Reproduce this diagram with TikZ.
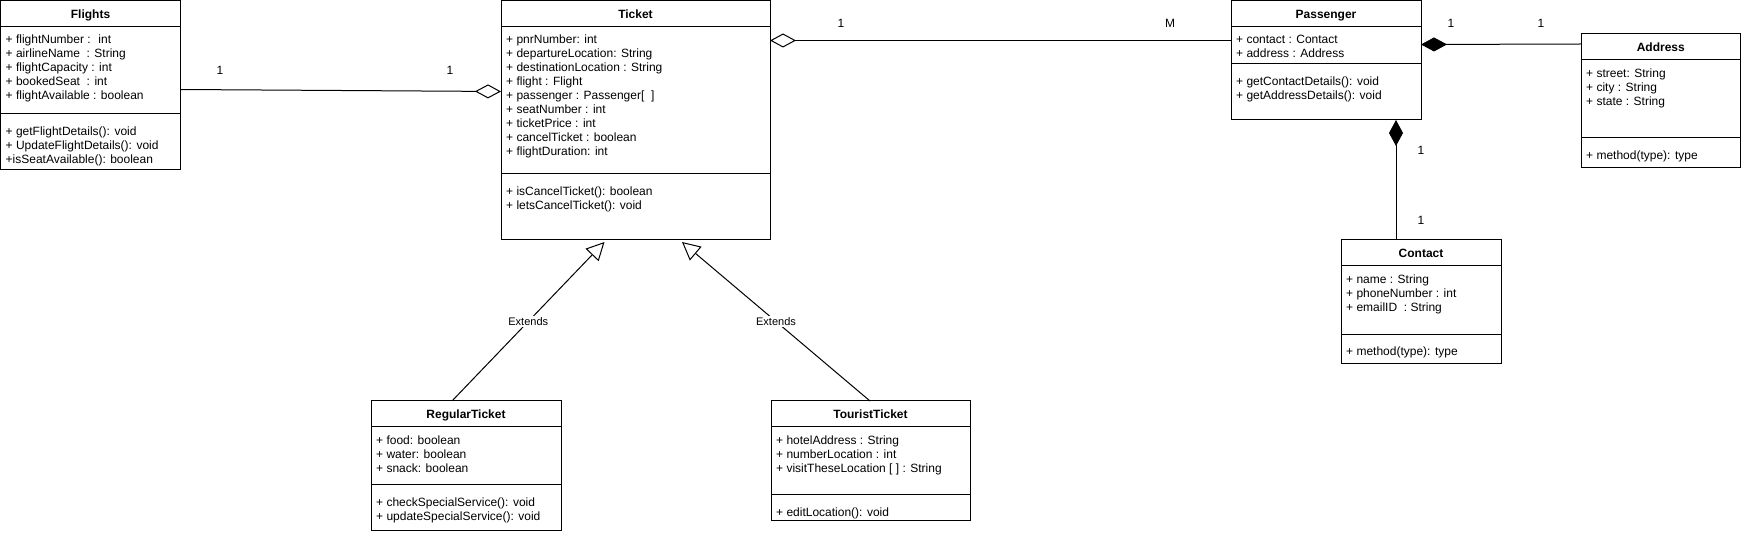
\documentclass[tikz,border=0pt]{standalone}
\usepackage{fontspec}
\setmainfont{Liberation Sans}
\usetikzlibrary{arrows.meta}
\tikzset{
  x=1pt, y=-1pt,
  ln/.style={line width=1pt, draw=black},
  box/.style={draw=black, line width=1pt, inner sep=0pt, outer sep=0pt, rectangle},
  ttl/.style={anchor=base, inner sep=0pt, font=\fontsize{12}{14}\selectfont\bfseries},
  attr/.style={anchor=base west, inner sep=0pt, font=\fontsize{12}{14}\selectfont},
  mult/.style={anchor=base, inner sep=0pt, font=\fontsize{12}{14}\selectfont},
  lbl/.style={fill=white, inner sep=1pt, font=\fontsize{11}{13}\selectfont},
  aggr/.style={ln, {Diamond[open, length=26pt, width=14pt]}-},
  comp/.style={ln, {Diamond[length=26pt, width=14pt]}-},
  inher/.style={ln, -{Triangle[open, length=18pt, width=18pt]}}
}
% #1 name, #2 x1, #3 y1, #4 x2, #5 y2, #6 title, #7 y of second separator
\newcommand\umlbox[7]{%
  \node[box, minimum width={(#4-#2)*1pt}, minimum height={(#5-#3)*1pt}] (#1) at ({(#2+#4)/2},{(#3+#5)/2}) {};
  \node[ttl] (#1-t) at ({(#2+#4)/2},{#3+18}) {#6};
  \draw[ln] (#2,#3+26) -- (#4,#3+26);
  \draw[ln] (#2,#7) -- (#4,#7);}
% #1 name prefix, #2 box left x, #3 centre y of first line, #4 list
\newcommand\members[4]{%
  \foreach \mtext [count=\mi] in {#4} {%
    \pgfmathsetmacro\myy{#3+14*(\mi-1)+4}%
    \node[attr] (#1\mi) at ({#2+5},\myy) {\mtext};}}
\begin{document}
\begin{tikzpicture}
\useasboundingbox[fill=white] (0,0) rectangle (1741,534);

% Flights
\umlbox{flights}{0.5}{0.5}{180.5}{170}{Flights}{114}
\members{fa}{0.5}{40}{+ flightNumber :~ int, + airlineName~ : String, + flightCapacity : int, + bookedSeat~ : int, + flightAvailable : boolean}
\members{fm}{0.5}{132}{+ getFlightDetails(): void, + UpdateFlightDetails(): void, +isSeatAvailable(): boolean}

% Ticket
\umlbox{ticket}{501}{0.5}{770}{240}{Ticket}{174}
\members{ta}{501}{40}{+ pnrNumber: int, + departureLocation: String, + destinationLocation : String, + flight : Flight, + passenger : Passenger[~ ], + seatNumber : int, + ticketPrice : int, + cancelTicket : boolean, + flightDuration: int}
\members{tm}{501}{192}{+ isCancelTicket(): boolean, + letsCancelTicket(): void}

% Passenger
\umlbox{passenger}{1231}{0.5}{1421}{120}{Passenger}{64}
\members{pa}{1231}{40}{+ contact : Contact, + address : Address}
\members{pm}{1231}{82}{+ getContactDetails(): void, + getAddressDetails(): void}

% Address
\umlbox{address}{1581}{34}{1740.5}{168}{Address}{138}
\members{aa}{1581}{74}{+ street: String, + city : String, + state : String}
\members{am}{1581}{156}{+ method(type): type}

% Contact
\umlbox{contact}{1341}{240}{1501}{364}{Contact}{335}
\members{ca}{1341}{280}{+ name : String, + phoneNumber : int, + emailID~ : String}
\members{cm}{1341}{352}{+ method(type): type}

% RegularTicket
\umlbox{regular}{371}{401}{561}{530}{RegularTicket}{484}
\members{ra}{371}{441}{+ food: boolean, + water: boolean, + snack: boolean}
\members{rm}{371}{502}{+ checkSpecialService(): void, + updateSpecialService(): void}

% TouristTicket
\umlbox{tourist}{771}{401}{970}{520}{TouristTicket}{494}
\members{ua}{771}{441}{+ hotelAddress : String, + numberLocation : int, + visitTheseLocation [ ] : String}
\members{um}{771}{512}{+ editLocation(): void}

% connectors
\draw[ln, -{Diamond[open, length=26pt, width=14pt]}] ([yshift=-89pt]flights.north east) -- ([yshift=-91pt]ticket.north west);
\draw[aggr] ([yshift=-40pt]ticket.north east) -- ([yshift=-40pt]passenger.north west);
\draw[comp] ([yshift=-44pt]passenger.north east) -- ([yshift=-10pt]address.north west);
\draw[comp] ([xshift=70pt]passenger.south) -- ([xshift=-25pt]contact.north);
\draw[inher] ([xshift=-14pt]regular.north) -- node[lbl] (ext1) {Extends} ([xshift=-31pt,yshift=-2pt]ticket.south);
\draw[inher] ([xshift=-0.5pt]tourist.north) -- node[lbl] (ext2) {Extends} ([xshift=46.5pt,yshift=-2pt]ticket.south);

% multiplicities
\node[mult] (m1) at (220,75) {1};
\node[mult] (m2) at (450,75) {1};
\node[mult] (m3) at (841,28) {1};
\node[mult] (m4) at (1170,28) {M};
\node[mult] (m5) at (1451,28) {1};
\node[mult] (m6) at (1541,28) {1};
\node[mult] (m7) at (1421,155) {1};
\node[mult] (m8) at (1421,225) {1};
\end{tikzpicture}
\end{document}
